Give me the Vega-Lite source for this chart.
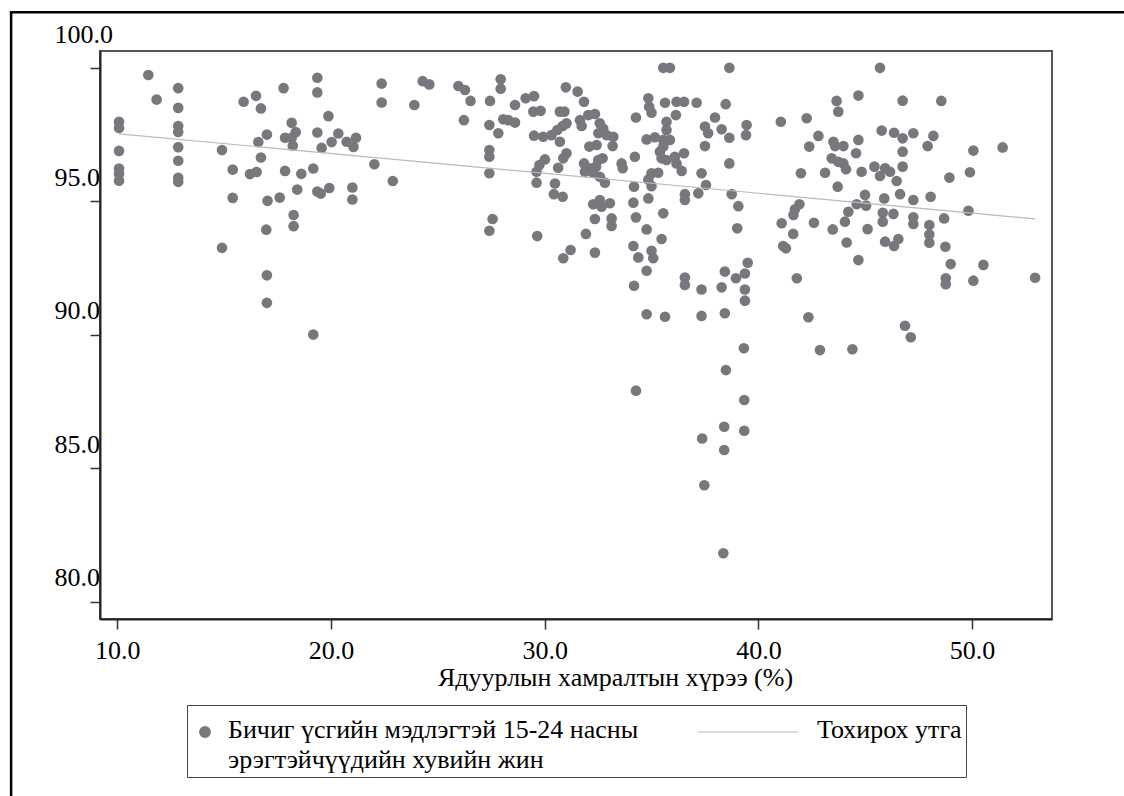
{
  "$schema": "https://vega.github.io/schema/vega-lite/v6.json",
  "width": 952,
  "height": 568,
  "autosize": {"type": "none"},
  "padding": {"left": 100, "top": 51, "right": 72, "bottom": 177},
  "background": "white",
  "config": {
    "view": {"stroke": "#555555", "strokeWidth": 2},
    "font": "Liberation Serif",
    "axis": {
      "grid": false,
      "labelFont": "Liberation Serif",
      "titleFont": "Liberation Serif",
      "labelFontSize": 26,
      "titleFontSize": 26,
      "labelColor": "#000000",
      "titleColor": "#000000",
      "titleFontWeight": "normal",
      "tickColor": "#333333",
      "tickSize": 10,
      "tickWidth": 1.5,
      "domainColor": "#222222",
      "domainWidth": 2,
      "labelFlush": false,
      "labelOverlap": false,
      "labelBound": false
    }
  },
  "datasets": {
    "pts": [
      {"poverty":10.08,"literacy":97.98},{"poverty":10.08,"literacy":97.75},{"poverty":10.08,"literacy":96.89},{"poverty":10.08,"literacy":96.23},{"poverty":10.08,"literacy":96.02},{"poverty":10.08,"literacy":95.77},
      {"poverty":11.45,"literacy":99.73},{"poverty":11.84,"literacy":98.81},{"poverty":12.85,"literacy":99.24},{"poverty":12.85,"literacy":98.5},{"poverty":12.85,"literacy":97.82},{"poverty":12.85,"literacy":97.6},
      {"poverty":12.85,"literacy":97.03},{"poverty":12.85,"literacy":96.52},{"poverty":12.85,"literacy":95.88},{"poverty":12.85,"literacy":95.73},{"poverty":14.9,"literacy":96.92},{"poverty":14.9,"literacy":93.26},
      {"poverty":15.4,"literacy":96.19},{"poverty":15.4,"literacy":95.13},{"poverty":15.91,"literacy":98.73},{"poverty":16.21,"literacy":96.02},{"poverty":16.52,"literacy":96.1},{"poverty":16.49,"literacy":98.95},
      {"poverty":16.72,"literacy":98.48},{"poverty":16.6,"literacy":97.22},{"poverty":16.72,"literacy":96.64},{"poverty":17.0,"literacy":97.5},{"poverty":17.03,"literacy":95.02},{"poverty":16.97,"literacy":93.94},
      {"poverty":17.0,"literacy":92.23},{"poverty":17.0,"literacy":91.2},{"poverty":17.78,"literacy":99.24},{"poverty":17.85,"literacy":96.14},{"poverty":17.6,"literacy":95.14},{"poverty":18.16,"literacy":97.94},
      {"poverty":18.35,"literacy":97.59},{"poverty":17.85,"literacy":97.38},{"poverty":18.16,"literacy":97.38},{"poverty":18.21,"literacy":97.08},{"poverty":18.61,"literacy":96.03},{"poverty":18.42,"literacy":95.44},
      {"poverty":18.25,"literacy":94.49},{"poverty":18.25,"literacy":94.07},{"poverty":19.17,"literacy":90.01},{"poverty":19.36,"literacy":99.63},{"poverty":19.36,"literacy":99.08},{"poverty":19.36,"literacy":97.58},
      {"poverty":19.56,"literacy":97.0},{"poverty":19.17,"literacy":96.23},{"poverty":19.36,"literacy":95.37},{"poverty":19.52,"literacy":95.29},{"poverty":19.92,"literacy":95.5},{"poverty":19.88,"literacy":98.19},
      {"poverty":20.03,"literacy":97.22},{"poverty":20.34,"literacy":97.54},{"poverty":20.73,"literacy":97.23},{"poverty":21.05,"literacy":97.04},{"poverty":21.17,"literacy":97.38},{"poverty":21.0,"literacy":95.52},
      {"poverty":21.0,"literacy":95.07},{"poverty":22.03,"literacy":96.39},{"poverty":22.37,"literacy":99.41},{"poverty":22.37,"literacy":98.7},{"poverty":22.89,"literacy":95.76},
      {"poverty":23.9,"literacy":98.61},{"poverty":24.29,"literacy":99.5},{"poverty":24.6,"literacy":99.38},{"poverty":25.96,"literacy":99.32},{"poverty":26.27,"literacy":99.17},{"poverty":26.53,"literacy":98.76},
      {"poverty":26.22,"literacy":98.04},{"poverty":27.44,"literacy":98.76},{"poverty":27.94,"literacy":99.57},{"poverty":27.94,"literacy":99.22},{"poverty":27.41,"literacy":97.86},{"poverty":27.83,"literacy":97.55},
      {"poverty":27.41,"literacy":96.92},{"poverty":27.41,"literacy":96.67},{"poverty":27.41,"literacy":96.05},{"poverty":27.56,"literacy":94.34},{"poverty":27.41,"literacy":93.9},{"poverty":28.06,"literacy":98.07},
      {"poverty":28.3,"literacy":98.04},{"poverty":28.61,"literacy":98.61},{"poverty":28.61,"literacy":97.95},{"poverty":29.11,"literacy":98.86},{"poverty":29.5,"literacy":98.94},{"poverty":29.47,"literacy":98.36},
      {"poverty":29.81,"literacy":98.39},{"poverty":29.5,"literacy":97.46},{"poverty":29.93,"literacy":97.42},{"poverty":30.32,"literacy":97.48},{"poverty":30.59,"literacy":97.67},{"poverty":30.84,"literacy":97.82},
      {"poverty":30.71,"literacy":98.36},{"poverty":30.92,"literacy":98.36},{"poverty":30.71,"literacy":97.23},{"poverty":30.99,"literacy":99.27},{"poverty":31.54,"literacy":99.11},{"poverty":31.84,"literacy":98.73},
      {"poverty":31.65,"literacy":98.04},{"poverty":31.73,"literacy":97.82},{"poverty":31.02,"literacy":97.92},{"poverty":32.04,"literacy":98.23},{"poverty":32.35,"literacy":98.27},{"poverty":32.58,"literacy":97.92},
      {"poverty":32.74,"literacy":97.73},{"poverty":32.9,"literacy":97.48},{"poverty":33.21,"literacy":97.42},{"poverty":33.18,"literacy":97.07},{"poverty":32.09,"literacy":97.05},{"poverty":32.43,"literacy":97.11},
      {"poverty":32.51,"literacy":97.55},{"poverty":31.02,"literacy":96.8},{"poverty":30.87,"literacy":96.61},{"poverty":30.01,"literacy":96.57},{"poverty":29.75,"literacy":96.36},{"poverty":29.62,"literacy":96.11},
      {"poverty":29.62,"literacy":95.7},{"poverty":30.48,"literacy":95.67},{"poverty":30.43,"literacy":95.27},{"poverty":30.84,"literacy":95.17},{"poverty":30.63,"literacy":96.26},{"poverty":31.84,"literacy":96.42},
      {"poverty":32.12,"literacy":96.24},{"poverty":32.4,"literacy":96.3},{"poverty":32.51,"literacy":96.55},{"poverty":32.71,"literacy":96.61},{"poverty":31.88,"literacy":96.11},{"poverty":32.27,"literacy":96.07},
      {"poverty":32.58,"literacy":95.92},{"poverty":32.82,"literacy":95.7},{"poverty":33.6,"literacy":96.42},{"poverty":33.65,"literacy":96.24},{"poverty":34.22,"literacy":96.67},{"poverty":34.18,"literacy":95.55},
      {"poverty":34.15,"literacy":94.95},{"poverty":34.27,"literacy":94.4},{"poverty":34.77,"literacy":93.95},{"poverty":34.15,"literacy":93.33},{"poverty":34.38,"literacy":92.9},{"poverty":34.77,"literacy":92.4},
      {"poverty":34.18,"literacy":91.84},{"poverty":34.77,"literacy":90.77},{"poverty":35.63,"literacy":90.68},{"poverty":32.58,"literacy":95.05},{"poverty":32.27,"literacy":94.89},{"poverty":33.05,"literacy":94.93},
      {"poverty":32.66,"literacy":94.8},{"poverty":32.35,"literacy":94.34},{"poverty":33.13,"literacy":94.36},{"poverty":33.13,"literacy":94.08},{"poverty":31.93,"literacy":93.78},{"poverty":32.35,"literacy":93.08},
      {"poverty":31.21,"literacy":93.18},{"poverty":30.87,"literacy":92.87},{"poverty":29.65,"literacy":93.7},{"poverty":34.85,"literacy":95.11},{"poverty":34.85,"literacy":95.82},{"poverty":35.0,"literacy":96.05},
      {"poverty":35.31,"literacy":96.07},{"poverty":35.0,"literacy":95.57},{"poverty":35.55,"literacy":94.55},{"poverty":35.47,"literacy":93.59},{"poverty":35.0,"literacy":93.15},{"poverty":35.08,"literacy":92.87},
      {"poverty":34.27,"literacy":98.14},{"poverty":34.85,"literacy":98.86},{"poverty":34.89,"literacy":98.54},{"poverty":35.0,"literacy":98.32},{"poverty":34.77,"literacy":97.32},{"poverty":35.16,"literacy":97.4},
      {"poverty":35.63,"literacy":98.69},{"poverty":35.55,"literacy":100.0},{"poverty":35.86,"literacy":100.0},{"poverty":35.7,"literacy":97.98},{"poverty":35.7,"literacy":97.67},{"poverty":35.55,"literacy":97.3},
      {"poverty":35.86,"literacy":97.3},{"poverty":35.55,"literacy":97.05},{"poverty":35.39,"literacy":96.86},{"poverty":35.47,"literacy":96.61},{"poverty":35.7,"literacy":96.55},{"poverty":36.14,"literacy":98.23},
      {"poverty":36.17,"literacy":98.73},{"poverty":36.52,"literacy":98.73},{"poverty":37.11,"literacy":98.69},{"poverty":36.09,"literacy":96.67},{"poverty":36.52,"literacy":96.8},{"poverty":36.17,"literacy":96.42},
      {"poverty":36.41,"literacy":96.14},{"poverty":37.34,"literacy":96.05},{"poverty":37.55,"literacy":95.61},{"poverty":37.19,"literacy":95.3},{"poverty":36.56,"literacy":95.27},{"poverty":36.56,"literacy":95.05},
      {"poverty":37.5,"literacy":97.8},{"poverty":37.65,"literacy":97.55},{"poverty":37.5,"literacy":97.07},{"poverty":37.97,"literacy":98.14},{"poverty":38.28,"literacy":97.7},{"poverty":38.64,"literacy":97.38},
      {"poverty":38.47,"literacy":98.64},{"poverty":38.64,"literacy":100.0},{"poverty":38.64,"literacy":96.42},{"poverty":38.75,"literacy":95.27},{"poverty":39.06,"literacy":94.82},{"poverty":39.01,"literacy":93.99},
      {"poverty":39.45,"literacy":97.86},{"poverty":39.42,"literacy":97.48},{"poverty":41.05,"literacy":97.98},{"poverty":41.09,"literacy":94.18},{"poverty":41.63,"literacy":93.78},{"poverty":41.16,"literacy":93.33},
      {"poverty":41.29,"literacy":93.24},{"poverty":41.8,"literacy":92.12},{"poverty":36.56,"literacy":92.15},{"poverty":36.56,"literacy":91.87},{"poverty":37.34,"literacy":91.7},{"poverty":38.43,"literacy":92.37},
      {"poverty":38.28,"literacy":91.78},{"poverty":38.95,"literacy":92.12},{"poverty":39.37,"literacy":92.3},{"poverty":39.5,"literacy":92.7},{"poverty":39.37,"literacy":91.7},{"poverty":39.37,"literacy":91.28},
      {"poverty":37.34,"literacy":90.71},{"poverty":38.43,"literacy":90.81},{"poverty":39.32,"literacy":89.5},
      {"poverty":42.26,"literacy":98.11},{"poverty":42.81,"literacy":97.45},{"poverty":42.38,"literacy":97.05},{"poverty":41.99,"literacy":96.05},{"poverty":43.12,"literacy":96.07},{"poverty":43.66,"literacy":98.76},
      {"poverty":43.74,"literacy":98.36},{"poverty":44.68,"literacy":98.96},{"poverty":43.51,"literacy":97.23},{"poverty":43.59,"literacy":97.07},{"poverty":43.98,"literacy":97.07},{"poverty":44.68,"literacy":97.3},
      {"poverty":44.57,"literacy":96.8},{"poverty":43.43,"literacy":96.61},{"poverty":43.74,"literacy":96.48},{"poverty":43.98,"literacy":96.42},{"poverty":44.1,"literacy":96.2},{"poverty":44.83,"literacy":96.11},
      {"poverty":43.71,"literacy":95.55},{"poverty":45.69,"literacy":100.0},{"poverty":45.77,"literacy":97.65},{"poverty":46.35,"literacy":97.57},{"poverty":46.75,"literacy":97.36},{"poverty":47.25,"literacy":97.55},
      {"poverty":46.75,"literacy":98.77},{"poverty":48.56,"literacy":98.76},{"poverty":48.19,"literacy":97.45},{"poverty":47.92,"literacy":97.07},{"poverty":46.75,"literacy":96.86},{"poverty":46.75,"literacy":96.3},
      {"poverty":45.43,"literacy":96.3},{"poverty":45.93,"literacy":96.24},{"poverty":46.16,"literacy":96.11},{"poverty":45.69,"literacy":95.95},{"poverty":46.47,"literacy":95.76},{"poverty":50.06,"literacy":96.9},
      {"poverty":51.43,"literacy":97.02},{"poverty":48.94,"literacy":95.89},{"poverty":49.9,"literacy":96.09},{"poverty":44.99,"literacy":95.24},{"poverty":45.89,"literacy":95.11},{"poverty":46.63,"literacy":95.27},
      {"poverty":47.25,"literacy":95.05},{"poverty":48.06,"literacy":95.17},{"poverty":49.83,"literacy":94.65},{"poverty":44.6,"literacy":94.89},{"poverty":45.04,"literacy":94.84},{"poverty":44.21,"literacy":94.61},
      {"poverty":44.05,"literacy":94.24},{"poverty":41.92,"literacy":94.89},{"poverty":41.71,"literacy":94.7},{"poverty":41.64,"literacy":94.49},{"poverty":42.6,"literacy":94.2},{"poverty":43.48,"literacy":93.95},
      {"poverty":44.13,"literacy":93.46},{"poverty":45.11,"literacy":93.96},{"poverty":45.82,"literacy":94.57},{"poverty":45.82,"literacy":94.24},{"poverty":46.32,"literacy":94.53},{"poverty":47.25,"literacy":94.4},
      {"poverty":47.25,"literacy":94.15},{"poverty":48.0,"literacy":94.11},{"poverty":48.0,"literacy":93.76},{"poverty":48.0,"literacy":93.45},{"poverty":48.69,"literacy":94.36},{"poverty":48.75,"literacy":93.3},
      {"poverty":45.93,"literacy":93.49},{"poverty":46.35,"literacy":93.33},{"poverty":46.55,"literacy":93.59},{"poverty":44.68,"literacy":92.8},{"poverty":49.0,"literacy":92.65},{"poverty":50.53,"literacy":92.62},
      {"poverty":48.77,"literacy":92.12},{"poverty":48.77,"literacy":91.9},{"poverty":50.06,"literacy":92.03},{"poverty":52.95,"literacy":92.14},{"poverty":42.34,"literacy":90.66},{"poverty":46.86,"literacy":90.34},
      {"poverty":47.13,"literacy":89.91},{"poverty":42.88,"literacy":89.43},{"poverty":44.4,"literacy":89.46},
      {"poverty":38.48,"literacy":88.68},{"poverty":34.27,"literacy":87.91},{"poverty":39.34,"literacy":87.56},{"poverty":38.4,"literacy":86.56},{"poverty":39.34,"literacy":86.41},{"poverty":37.37,"literacy":86.12},
      {"poverty":38.4,"literacy":85.69},{"poverty":37.47,"literacy":84.37},{"poverty":38.36,"literacy":81.82}
    ],
    "fit": [
      {"poverty": 10.08, "fitted": 97.53},
      {"poverty": 52.95, "fitted": 94.34}
    ]
  },
  "layer": [
    {
      "data": {"values": [{}]},
      "mark": {"type": "rect", "filled": false, "stroke": "#000000", "strokeWidth": 2.5, "clip": false},
      "encoding": {
        "x": {"datum": 5.03, "type": "quantitative", "scale": {"domain": [9.19, 53.74], "nice": false, "zero": false}, "title": "Ядуурлын хамралтын хүрээ (%)"},
        "x2": {"datum": 62},
        "y": {"datum": 102.08, "type": "quantitative", "scale": {"domain": [79.36, 100.63], "nice": false, "zero": false}, "title": null},
        "y2": {"datum": 70}
      }
    },
    {
      "data": {"name": "pts"},
      "mark": {"type": "circle", "size": 113, "opacity": 1},
      "encoding": {
        "x": {
          "field": "poverty", "type": "quantitative",
          "scale": {"domain": [9.19, 53.74], "nice": false, "zero": false},
          "title": "Ядуурлын хамралтын хүрээ (%)",
          "axis": {
            "values": [10, 20, 30, 40, 50],
            "format": ".1f",
            "labelPadding": 8,
            "titleX": 515,
            "titleY": 66,
            "titleAlign": "center",
            "titleBaseline": "alphabetic"
          }
        },
        "y": {
          "field": "literacy", "type": "quantitative",
          "scale": {"domain": [79.36, 100.63], "nice": false, "zero": false},
          "title": null,
          "axis": {
            "values": [80, 85, 90, 95, 100],
            "format": ".1f",
            "labelAlign": "left",
            "labelBaseline": "alphabetic",
            "labelPadding": 36,
            "labelOffset": {"condition": {"test": "datum.value === 100", "value": -25}, "value": -16}
          }
        },
        "color": {
          "datum": "Бичиг үсгийн мэдлэгтэй 15-24 насны эрэгтэйчүүдийн хувийн жин",
          "type": "nominal",
          "scale": {
            "domain": ["Бичиг үсгийн мэдлэгтэй 15-24 насны эрэгтэйчүүдийн хувийн жин", "Тохирох утга"],
            "range": ["#77787d", "#b9b9b9"]
          },
          "legend": {
            "title": null,
            "orient": "none",
            "legendX": 87,
            "legendY": 654,
            "direction": "horizontal",
            "columns": 2,
            "columnPadding": 56,
            "labelFont": "Liberation Serif",
            "labelFontSize": 26,
            "labelColor": "#000000",
            "labelLimit": 1000,
            "labelBaseline": "alphabetic",
            "strokeColor": "#444444",
            "fillColor": "#ffffff",
            "padding": 4,
            "labelExpr": "datum.value === 'Тохирох утга' ? [datum.label, ''] : ['Бичиг үсгийн мэдлэгтэй 15-24 насны', 'эрэгтэйчүүдийн хувийн жин']",
            "encode": {
              "symbols": {"update": {
                "shape": {"signal": "datum.value === 'Тохирох утга' ? 'stroke' : 'circle'"},
                "size": {"signal": "datum.value === 'Тохирох утга' ? 10000 : 113"},
                "x": {"signal": "datum.value === 'Тохирох утга' ? 50 : 14"},
                "y": {"value": 23},
                "strokeWidth": {"value": 1.2},
                "opacity": {"value": 1}
              }},
              "labels": {"update": {
                "x": {"signal": "datum.value === 'Тохирох утга' ? 119 : 37"},
                "y": {"value": 29},
                "lineHeight": {"value": 30}
              }}
            }
          }
        }
      }
    },
    {
      "data": {"name": "fit"},
      "mark": {"type": "line", "color": "#b9b9b9", "strokeWidth": 1.2},
      "encoding": {
        "x": {"field": "poverty", "type": "quantitative", "scale": {"domain": [9.19, 53.74], "nice": false, "zero": false}, "title": "Ядуурлын хамралтын хүрээ (%)"},
        "y": {"field": "fitted", "type": "quantitative", "scale": {"domain": [79.36, 100.63], "nice": false, "zero": false}, "title": null},
        "color": {
          "datum": "Тохирох утга",
          "type": "nominal",
          "legend": {
            "title": null,
            "orient": "none",
            "legendX": 87,
            "legendY": 654,
            "direction": "horizontal",
            "columns": 2,
            "columnPadding": 56,
            "labelFont": "Liberation Serif",
            "labelFontSize": 26,
            "labelColor": "#000000",
            "labelLimit": 1000,
            "labelBaseline": "alphabetic",
            "strokeColor": "#444444",
            "fillColor": "#ffffff",
            "padding": 4,
            "labelExpr": "datum.value === 'Тохирох утга' ? [datum.label, ''] : ['Бичиг үсгийн мэдлэгтэй 15-24 насны', 'эрэгтэйчүүдийн хувийн жин']",
            "encode": {
              "symbols": {"update": {
                "shape": {"signal": "datum.value === 'Тохирох утга' ? 'stroke' : 'circle'"},
                "size": {"signal": "datum.value === 'Тохирох утга' ? 10000 : 113"},
                "x": {"signal": "datum.value === 'Тохирох утга' ? 50 : 14"},
                "y": {"value": 23},
                "strokeWidth": {"value": 1.2},
                "opacity": {"value": 1}
              }},
              "labels": {"update": {
                "x": {"signal": "datum.value === 'Тохирох утга' ? 119 : 37"},
                "y": {"value": 29},
                "lineHeight": {"value": 30}
              }}
            }
          }
        }
      }
    }
  ]
}
